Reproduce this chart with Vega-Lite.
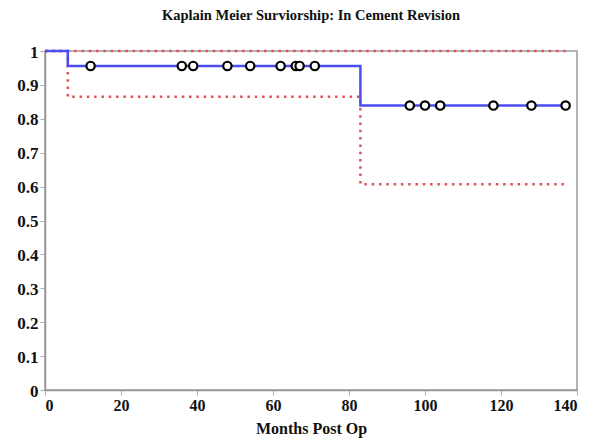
{
  "$schema": "https://vega.github.io/schema/vega-lite/v6.json",
  "width": 532,
  "height": 339,
  "autosize": "none",
  "padding": {"left": 45, "top": 51, "right": 17, "bottom": 50},
  "background": "white",
  "config": {
    "view": {"stroke": "#999999", "strokeWidth": 1.5},
    "font": "Liberation Serif"
  },
  "title": {
    "text": "Kaplain Meier Surviorship: In Cement Revision",
    "font": "Liberation Serif",
    "fontSize": 14.5,
    "fontWeight": "bold",
    "color": "#111111",
    "offset": 20
  },
  "datasets": {
    "curves": [
      {"series": "upper", "month": 0, "surv": 1},
      {"series": "upper", "month": 137, "surv": 1},
      {"series": "lower", "month": 0, "surv": 1},
      {"series": "lower", "month": 6, "surv": 0.865},
      {"series": "lower", "month": 83, "surv": 0.607},
      {"series": "lower", "month": 137, "surv": 0.607},
      {"series": "km", "month": 0, "surv": 1},
      {"series": "km", "month": 6, "surv": 0.956},
      {"series": "km", "month": 83, "surv": 0.839},
      {"series": "km", "month": 137, "surv": 0.839}
    ],
    "censored": [
      {"month": 12, "surv": 0.956},
      {"month": 36, "surv": 0.956},
      {"month": 39, "surv": 0.956},
      {"month": 48, "surv": 0.956},
      {"month": 54, "surv": 0.956},
      {"month": 62, "surv": 0.956},
      {"month": 66, "surv": 0.956},
      {"month": 67, "surv": 0.956},
      {"month": 71, "surv": 0.956},
      {"month": 96, "surv": 0.839},
      {"month": 100, "surv": 0.839},
      {"month": 104, "surv": 0.839},
      {"month": 118, "surv": 0.839},
      {"month": 128, "surv": 0.839},
      {"month": 137, "surv": 0.839}
    ]
  },
  "encoding": {
    "x": {
      "field": "month",
      "type": "quantitative",
      "scale": {"domain": [0, 140], "nice": false, "zero": true},
      "axis": {
        "title": "Months Post Op",
        "values": [0, 20, 40, 60, 80, 100, 120, 140],
        "grid": false,
        "domainColor": "#999999",
        "domainWidth": 1.5,
        "tickColor": "#aaaaaa",
        "tickSize": 5,
        "labelFont": "Liberation Serif",
        "labelFontSize": 16,
        "labelFontWeight": "bold",
        "labelColor": "#111111",
        "labelPadding": 2,
        "titleFont": "Liberation Serif",
        "titleFontSize": 16,
        "titleFontWeight": "bold",
        "titleColor": "#111111",
        "titlePadding": 7
      }
    },
    "y": {
      "field": "surv",
      "type": "quantitative",
      "scale": {"domain": [0, 1], "nice": false},
      "axis": {
        "title": null,
        "values": [0, 0.1, 0.2, 0.3, 0.4, 0.5, 0.6, 0.7, 0.8, 0.9, 1],
        "format": "~g",
        "grid": false,
        "domainColor": "#999999",
        "domainWidth": 1.5,
        "tickColor": "#aaaaaa",
        "tickSize": 5,
        "labelFont": "Liberation Serif",
        "labelFontSize": 17,
        "labelFontWeight": "bold",
        "labelColor": "#111111",
        "labelPadding": 2,
        "labelBaseline": "middle",
        "labelOffset": 1
      }
    }
  },
  "layer": [
    {
      "data": {"name": "curves"},
      "mark": {"type": "line", "interpolate": "step-after"},
      "encoding": {
        "detail": {"field": "series"},
        "color": {
          "field": "series",
          "type": "nominal",
          "scale": {"domain": ["upper", "lower", "km"], "range": ["#e0505a", "#e0505a", "#4c4cf2"]},
          "legend": null
        },
        "strokeDash": {
          "field": "series",
          "type": "nominal",
          "scale": {"domain": ["upper", "lower", "km"], "range": [[2.5, 4.8], [2.5, 4.8], [1, 0]]},
          "legend": null
        },
        "strokeWidth": {
          "field": "series",
          "type": "nominal",
          "scale": {"domain": ["upper", "lower", "km"], "range": [2.5, 2.5, 2]},
          "legend": null
        },
        "order": {"field": "month", "type": "quantitative"}
      }
    },
    {
      "data": {"name": "censored"},
      "mark": {"type": "point", "shape": "circle", "filled": false, "fill": "white", "fillOpacity": 1, "stroke": "black", "strokeWidth": 2.2, "size": 70, "opacity": 1},
      "encoding": {}
    }
  ]
}
